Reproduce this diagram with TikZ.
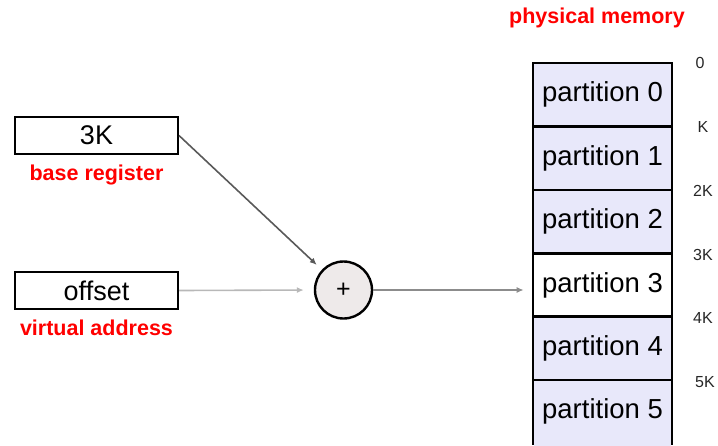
\documentclass[tikz,border=0pt]{standalone}
\usepackage{fontspec}
\setmainfont{Liberation Sans}
\usepackage{tikz}
\usetikzlibrary{positioning,arrows.meta}
\definecolor{MemLilac}{RGB}{232,232,250}
\definecolor{SumGrey}{RGB}{238,234,234}
\definecolor{TagRed}{RGB}{255,0,0}
\tikzset{
    regnode/.style={rectangle, draw=black, fill=white, line width=2pt, minimum width=163pt, minimum height=37pt, inner sep=0pt, font=\fontsize{27}{29}\selectfont},
    partnode/.style={rectangle, draw=black, fill=MemLilac, line width=2.6pt, minimum width=139pt, minimum height=63.4pt, inner sep=0pt, font=\fontsize{27.5}{29}\selectfont},
    tagnode/.style={text=TagRed, inner sep=0pt, font=\fontsize{21.5}{23}\selectfont\bfseries},
    addrnode/.style={inner sep=0pt, text=black!85, font=\fontsize{16}{18}\selectfont},
    link/.style={-{Latex[length=7pt,width=6pt]}, line width=1.6pt}
}
\begin{document}
\begin{tikzpicture}[
                x=1pt, y=-1pt,
                sumnode/.style={
                    circle,
                    draw=black,
                    fill=SumGrey,
                    line width=2.4pt,
                    minimum size=57pt,
                    inner sep=0pt,
                    font=\fontsize{25}{27}\selectfont
                }
            ]
                \useasboundingbox (0,0) rectangle (718,445);
                % registers
                \node[regnode] (base) at (96.5,135.5) {3K};
                \node[tagnode, below=10pt of base] (basetag) {base register};
                \node[regnode] (offset) at (96.5,290.5) {offset};
                \node[tagnode, below=10pt of offset] (offtag) {virtual address};
                \node[sumnode] (sum) at (343.5,290) {+};
                % memory (runs on below the page)
                \node[tagnode] (memtag) at (597,18) {physical memory};
                \foreach \i/\c in {0/MemLilac,1/MemLilac,2/MemLilac,3/white,4/MemLilac,5/MemLilac} {
                    \node[partnode, fill=\c] (p\i) at (602.5,{94.7+63.4*\i}) {partition \i};
                }
                \fill[MemLilac] ([xshift=2.6pt,yshift=5pt]p5.south west) rectangle ([xshift=-2.6pt,yshift=-5pt]p5.south east);
                \node[addrnode] (a0) at (700,63) {0};
                \node[addrnode] (a1) at (703,127) {K};
                \node[addrnode] (a2) at (703,191) {2K};
                \node[addrnode] (a3) at (703,255) {3K};
                \node[addrnode] (a4) at (703,318) {4K};
                \node[addrnode] (a5) at (705,382) {5K};
                % arrows
                \draw[link, draw=black!65] (base.east) -- (sum) [shorten >=7pt];
                \draw[link, draw=black!28] (offset.east) -- (sum.west) [shorten >=10pt];
                \draw[link, draw=black!45] (sum.east) -- (sum.east -| p3.west) [shorten >=8pt];
            \end{tikzpicture}
\end{document}
